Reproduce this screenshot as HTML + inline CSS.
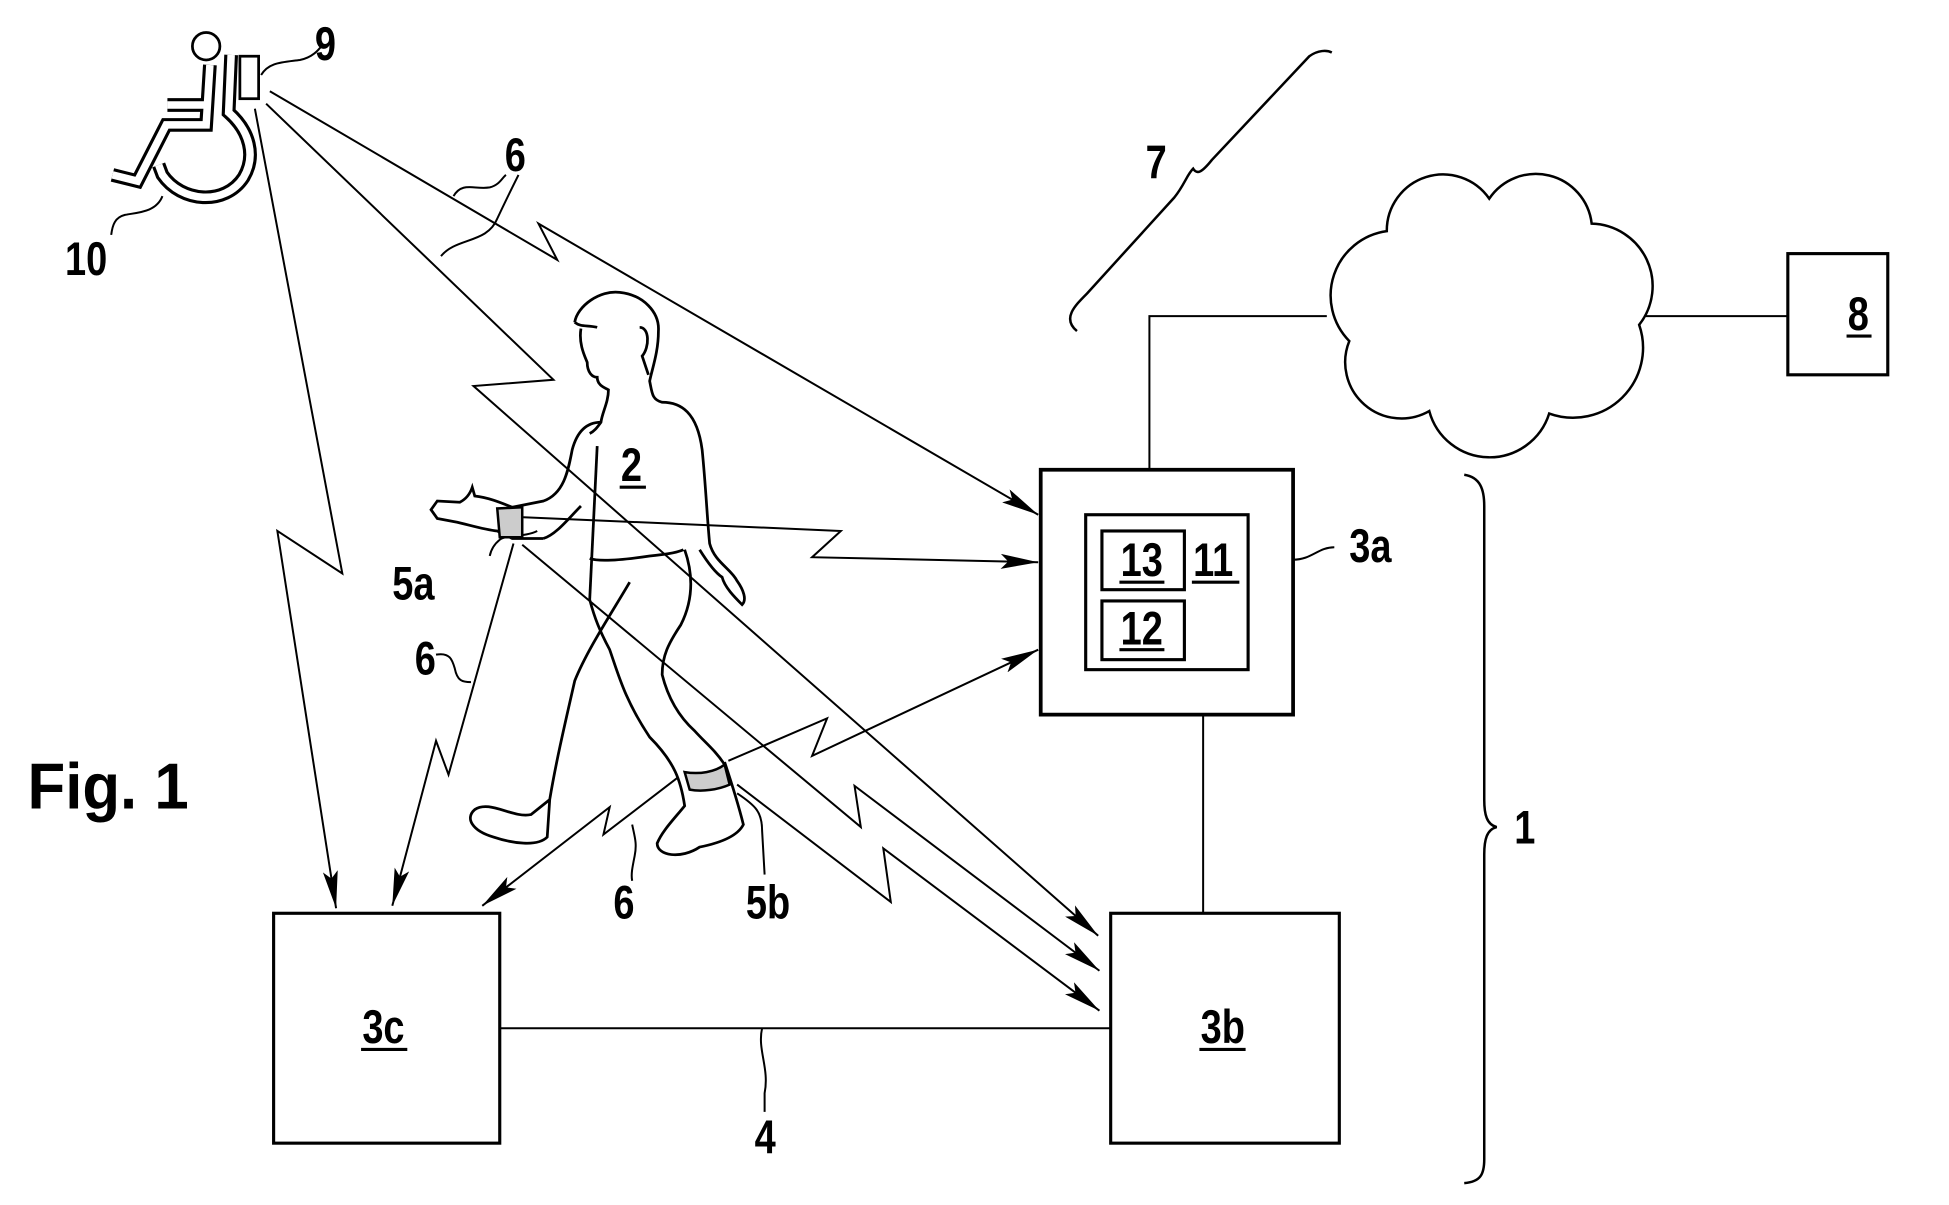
<!DOCTYPE html>
<html><head><meta charset="utf-8"><style>
html,body{margin:0;padding:0;background:#fff;}
svg{display:block;}
text{font-family:"Liberation Sans Narrow","Liberation Sans",sans-serif;font-weight:bold;fill:#000;}
</style></head><body>
<svg width="1949" height="1205" viewBox="0 0 1560 964.5" xmlns="http://www.w3.org/2000/svg">
<defs>
<marker id="ab" viewBox="0 0 30 12" refX="30" refY="6" markerWidth="30" markerHeight="12" markerUnits="userSpaceOnUse" orient="auto">
<path d="M0,0 L30,6 L0,12 L6,6 Z" fill="#000"/>
</marker>
</defs>
<g fill="none" stroke="#000" stroke-width="1.6">
<!-- boxes -->
<rect x="833" y="376" width="202" height="196" stroke-width="3"/>
<rect x="869" y="412" width="130" height="124" stroke-width="2.5"/>
<rect x="882" y="425" width="66" height="47" stroke-width="2.5"/>
<rect x="882" y="481" width="66" height="47" stroke-width="2.5"/>
<rect x="889" y="731" width="183" height="184" stroke-width="2.5"/>
<rect x="219" y="731" width="181" height="184" stroke-width="2.5"/>
<rect x="1431" y="203" width="80" height="97" stroke-width="2.5"/>
<!-- connections -->
<path d="M400,823 L889,823"/>
<path d="M963,572 L963,731"/>
<path d="M920,376 L920,253 L1062,253"/>
<path d="M1317,253 L1431,253"/>
<path d="M610,823 C606,840 616,855 612,875 L612,890"/>
<!-- cloud -->
<path d="M1080,273 A52,52 0 0 1 1110,185 A45,45 0 0 1 1192,159 A45,45 0 0 1 1274,179 A50,50 0 0 1 1312,260 A56,56 0 0 1 1240,331 A50,50 0 0 1 1144,329 A45,45 0 0 1 1080,273 Z" stroke-width="2"/>
<!-- brace 7 -->
<path d="M862,265 C850,255 860,245 870,235 L940,158 C948,148 950,140 955,135 C958,140 962,138 970,128 L1048,45 C1055,40 1062,40 1066,42" stroke-width="2"/>
<!-- brace 1 -->
<path d="M1172,380 C1185,382 1188,392 1188,405 L1188,640 C1188,652 1190,660 1198,662 C1190,664 1188,672 1188,684 L1188,928 C1188,940 1185,946 1172,947" stroke-width="2"/>
<!-- 3a leader -->
<path d="M1035,448 C1050,448 1055,438 1068,438" />
<!-- wireless arrows -->
<path d="M216,73 L446,208 L431,179 L831,412" marker-end="url(#ab)"/>
<path d="M213,83 L443,304 L379,309 L879,749" marker-end="url(#ab)"/>
<path d="M204,87 L274,459 L222,425 L269,727" marker-end="url(#ab)"/>
<path d="M419,414 L673,425 L650,446 L831,450" marker-end="url(#ab)"/>
<path d="M583,609 L662,575 L650,605 L831,520" marker-end="url(#ab)"/>
<path d="M543,622 L483,668 L488,646 L386,725" marker-end="url(#ab)"/>
<path d="M411,435 L359,620 L349,593 L314,725" marker-end="url(#ab)"/>
<path d="M418,436 L689,662 L684,629 L880,777" marker-end="url(#ab)"/>
<path d="M590,628 L713,722 L707,679 L880,809" marker-end="url(#ab)"/>
<!-- label leaders -->
<path d="M209,60 C215,50 225,50 240,48 C250,46 255,40 258,36"/>
<path d="M130,157 C125,170 110,170 100,172 C92,174 90,180 89,188"/>
<path d="M363,157 C370,145 380,152 392,150 C400,148 402,142 405,140"/>
<path d="M353,205 C365,190 390,195 398,175 C405,160 410,150 415,140"/>
<path d="M349,524 C360,522 362,528 364,535 C366,545 370,546 377,546"/>
<path d="M430,425 C420,430 405,428 400,432 C395,436 393,440 392,445"/>
<path d="M506,660 C508,670 510,675 508,685 C506,695 505,700 506,705"/>
<path d="M590,635 C605,645 610,650 610,665 L612,700"/>
<!-- person -->
<g stroke-width="2.2">
<path d="M460,258 C462,245 480,232 496,234 C515,236 528,250 527,265 C527,282 522,295 520,305 C522,315 522,320 530,322 C545,322 558,330 562,360 C565,390 566,415 568,435 C572,450 585,455 590,465 C595,472 598,480 594,484 C588,478 580,470 578,462 C572,458 565,448 560,440"/>
<path d="M460,258 C465,262 470,260 478,262"/>
<path d="M465,263 C463,275 468,285 470,290 C470,298 474,302 478,302 C478,308 483,310 487,312 C487,322 482,330 481,338 C478,342 476,345 472,347"/>
<path d="M512,262 C520,262 520,278 514,285 L519,300"/>
<path d="M481,338 C470,338 462,345 458,360 C455,375 452,395 435,401 L410,406"/>
<path d="M435,431 C445,428 455,415 465,405"/>
<path d="M410,406 C400,402 390,398 380,397 L378,390 C376,396 372,400 368,402 L350,401 L345,408 L350,415 L366,418 C375,420 388,424 398,425 L410,431 L435,431"/>
<path d="M472,447 C480,450 500,448 520,445 C530,444 540,443 547,440"/>
<path d="M478,357 L472,480"/>
<path d="M504,466 C490,490 470,520 460,545 C452,580 445,610 440,640 L425,652 C410,655 392,640 380,648 C372,655 378,665 395,670 C410,675 430,678 438,670 L440,640"/>
<path d="M472,480 C476,495 480,505 488,520 C495,540 500,560 520,590 C540,610 545,625 548,645 C540,655 530,665 526,675 C526,685 545,688 560,678 C575,675 590,670 595,660 C590,640 585,625 580,610"/>
<path d="M548,440 C555,460 555,480 545,500 C535,515 530,525 530,540 C535,560 545,575 556,585 C565,595 572,600 580,612"/>
<path d="M548,618 C560,620 572,618 580,612 L584,628 C575,632 562,634 552,632 Z" fill="#ccc" stroke-width="2"/>
<path d="M398,407 L400,430 L418,430 L418,406 Z" fill="#ccc" stroke-width="2"/>
</g>
<!-- wheelchair -->
<g stroke="#000" stroke-width="11" stroke-linejoin="miter">
<path d="M168,52 L165,100 L133,100 L110,145 L90,140"/>
<path d="M165,84 L134,84"/>
<path d="M185,44 L183,90 C200,105 205,125 195,142 C180,165 145,162 130,140 L127,132"/>
</g>
<g stroke="#fff" stroke-width="6">
<path d="M168,52 L165,100 L133,100 L110,145 L90,140"/>
<path d="M165,84 L134,84"/>
<path d="M185,44 L183,90 C200,105 205,125 195,142 C180,165 145,162 130,140 L127,132"/>
</g>
<circle cx="165" cy="37" r="11" stroke-width="2.2" fill="#fff"/>
<rect x="192" y="45" width="15" height="34" stroke-width="2.2" fill="#fff"/>
</g>
<!-- labels -->
<g font-size="38">
<text transform="translate(252,48) scale(0.8,1)">9</text>
<text transform="translate(52,220) scale(0.8,1)">10</text>
<text transform="translate(404,137) scale(0.8,1)">6</text>
<text transform="translate(917,143) scale(0.8,1)">7</text>
<text transform="translate(1479,264) scale(0.8,1)">8</text>
<text transform="translate(497,385) scale(0.8,1)">2</text>
<text transform="translate(955,461) scale(0.8,1)">11</text>
<text transform="translate(897,461) scale(0.8,1)">13</text>
<text transform="translate(897,516) scale(0.8,1)">12</text>
<text transform="translate(1080,450) scale(0.8,1)">3a</text>
<text transform="translate(314,480) scale(0.8,1)">5a</text>
<text transform="translate(332,540) scale(0.8,1)">6</text>
<text transform="translate(491,735) scale(0.8,1)">6</text>
<text transform="translate(597,735) scale(0.8,1)">5b</text>
<text transform="translate(1212,675) scale(0.8,1)">1</text>
<text transform="translate(290,835) scale(0.8,1)">3c</text>
<text transform="translate(961,835) scale(0.8,1)">3b</text>
<text transform="translate(604,923) scale(0.8,1)">4</text>
<text transform="translate(22,647) scale(0.95,1)" font-size="52">Fig. 1</text>
</g>
<g stroke="#000" stroke-width="2.5">
<line x1="496" y1="390" x2="517" y2="390"/>
<line x1="896" y1="466" x2="932" y2="466"/>
<line x1="954" y1="466" x2="992" y2="466"/>
<line x1="896" y1="520" x2="932" y2="520"/>
<line x1="1478" y1="269" x2="1498" y2="269"/>
<line x1="289" y1="840" x2="326" y2="840"/>
<line x1="960" y1="840" x2="997" y2="840"/>
</g>
</svg>
</body></html>
